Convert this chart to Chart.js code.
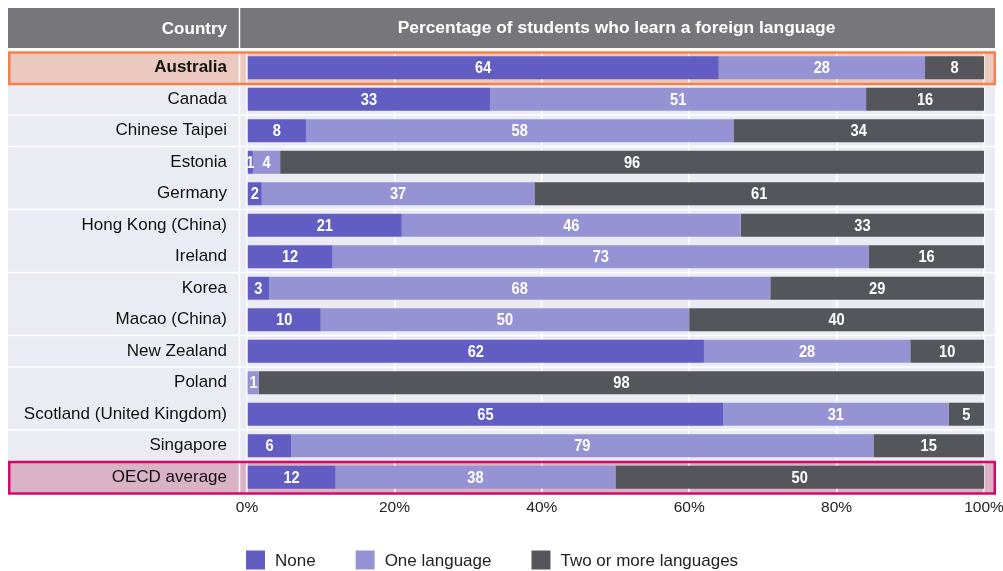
<!DOCTYPE html>
<html>
<head>
<meta charset="utf-8">
<script src="https://cdn.jsdelivr.net/npm/chart.js@4.4.1/dist/chart.umd.min.js"></script>
<style>
  html, body { margin: 0; padding: 0; background: #fff; }
  #wrap { width: 1003px; height: 571px; position: relative; }
</style>
</head>
<body>
<div id="wrap"><canvas id="langChart"></canvas></div>
<script>
const countries = ['Australia', 'Canada', 'Chinese Taipei', 'Estonia', 'Germany', 'Hong Kong (China)', 'Ireland',
  'Korea', 'Macao (China)', 'New Zealand', 'Poland', 'Scotland (United Kingdom)', 'Singapore', 'OECD average'];
const noneVals = [64, 33, 8, 0.8, 2, 21, 11.6, 3, 10, 62, 0.2, 64.6, 6, 12];
const oneVals = [28, 51, 58, 3.7, 37, 46, 72.8, 68, 50, 28, 1.4, 30.6, 79, 38];
const twoVals = [8, 16, 34, 95.5, 61, 33, 15.6, 29, 40, 10, 98.4, 4.8, 15, 50];
const seriesNames = ['None', 'One language', 'Two or more languages'];
const xTicks = [0, 20, 40, 60, 80, 100];
const headerLeft = 'Country';
const headerRight = 'Percentage of students who learn a foreign language';

// rows followed by a white separator line
const sepAfter = [1, 2, 4, 6, 8, 9, 11];

const labelFont = '"Liberation Sans", Arial, sans-serif';

const tablePlugin = {
  id: 'tableLook',
  beforeDraw(chart) {
    const { ctx, chartArea } = chart;
    const y = chart.scales.y;
    const n = countries.length;
    const rowH = (chartArea.bottom - chartArea.top) / n;
    ctx.save();
    // header
    ctx.fillStyle = '#77777b';
    ctx.fillRect(8, 8, 987, 40);
    ctx.fillStyle = '#fff';
    ctx.textBaseline = 'middle';
    ctx.textAlign = 'right';
    ctx.font = 'bold 17px ' + labelFont;
    ctx.fillText(headerLeft, 227, 29);
    ctx.textAlign = 'center';
    ctx.font = 'bold 17.4px ' + labelFont;
    ctx.fillText(headerRight, (chartArea.left + chartArea.right) / 2 + 1, 28);
    // body background
    ctx.fillStyle = '#ebebf4';
    ctx.fillRect(8, chartArea.top, 987, chartArea.bottom - chartArea.top);
    // highlighted rows
    [[0, '#ecc9bf'], [n - 1, '#d9b2c5']].forEach(([i, col]) => {
      const c = y.getPixelForValue(i);
      ctx.fillStyle = col;
      ctx.fillRect(8, c - rowH / 2, 987, rowH);
    });
    // separators
    ctx.strokeStyle = '#fff';
    ctx.lineWidth = 1.5;
    sepAfter.forEach(i => {
      const yy = y.getPixelForValue(i) + rowH / 2;
      ctx.beginPath();
      ctx.moveTo(8, yy);
      ctx.lineTo(995, yy);
      ctx.stroke();
    });
    // column divider
    ctx.beginPath();
    ctx.moveTo(239.5, 8);
    ctx.lineTo(239.5, chartArea.bottom);
    ctx.stroke();
    ctx.restore();
  },
  afterDatasetsDraw(chart) {
    const { ctx, chartArea } = chart;
    const y = chart.scales.y;
    const n = countries.length;
    const rowH = (chartArea.bottom - chartArea.top) / n;
    ctx.save();
    ctx.lineWidth = 2.5;
    [[0, '#f5804a'], [n - 1, '#d4086b']].forEach(([i, col]) => {
      const c = y.getPixelForValue(i);
      ctx.strokeStyle = col;
      ctx.strokeRect(9.25, c - rowH / 2 + 0.5, 985.5, rowH);
    });
    // value labels, squeezed to look condensed
    ctx.font = 'bold 17px ' + labelFont;
    ctx.fillStyle = '#fff';
    ctx.textAlign = 'center';
    ctx.textBaseline = 'middle';
    chart.data.datasets.forEach((ds, di) => {
      chart.getDatasetMeta(di).data.forEach((bar, i) => {
        const v = Math.round(ds.data[i]);
        if (v < 1) return;
        const cx = (bar.base + bar.x) / 2;
        ctx.save();
        ctx.translate(cx, bar.y + 1);
        ctx.scale(0.86, 1);
        ctx.fillText(String(v), 0, 0);
        ctx.restore();
      });
    });
    // legend
    let lx = 246;
    const ly = 560;
    ctx.font = '17px ' + labelFont;
    ctx.textAlign = 'left';
    chart.data.datasets.forEach(ds => {
      ctx.fillStyle = ds.backgroundColor;
      ctx.fillRect(lx, ly - 9.5, 19, 19);
      ctx.fillStyle = '#222';
      ctx.fillText(ds.label, lx + 29, ly + 1);
      lx += 29 + ctx.measureText(ds.label).width + 40;
    });
    ctx.restore();
  }
};

new Chart(document.getElementById('langChart'), {
  type: 'bar',
  data: {
    labels: countries,
    datasets: [
      { label: seriesNames[0], data: noneVals, backgroundColor: '#625dc2' },
      { label: seriesNames[1], data: oneVals, backgroundColor: '#9593d3' },
      { label: seriesNames[2], data: twoVals, backgroundColor: '#55565c' }
    ]
  },
  options: {
    indexAxis: 'y',
    responsive: true,
    maintainAspectRatio: false,
    animation: false,
    barPercentage: 0.73,
    categoryPercentage: 1,
    layout: { padding: { left: 8, right: 19, top: 52, bottom: 54 } },
    plugins: {
      legend: { display: false },
      tooltip: { enabled: false }
    },
    scales: {
      x: {
        stacked: true,
        min: 0,
        max: 100,
        afterBuildTicks: s => { s.ticks = xTicks.map(v => ({ value: v })); },
        afterFit: s => { s.height = 24; s.paddingRight = 0; s.paddingLeft = 0; },
        grid: { color: '#ffffff', lineWidth: 1.5, drawTicks: false },
        border: { display: false },
        ticks: {
          padding: 5,
          color: '#222',
          font: { family: labelFont, size: 15.5 },
          callback: v => v + '%'
        }
      },
      y: {
        stacked: true,
        afterFit: s => { s.width = 239; },
        grid: { display: false, drawTicks: false },
        border: { display: false },
        ticks: {
          padding: 20,
          color: '#111',
          autoSkip: false,
          font: ctx => ({ family: labelFont, size: 17, weight: ctx.index === 0 ? 'bold' : 'normal' })
        }
      }
    }
  },
  plugins: [tablePlugin]
});
</script>
</body>
</html>
